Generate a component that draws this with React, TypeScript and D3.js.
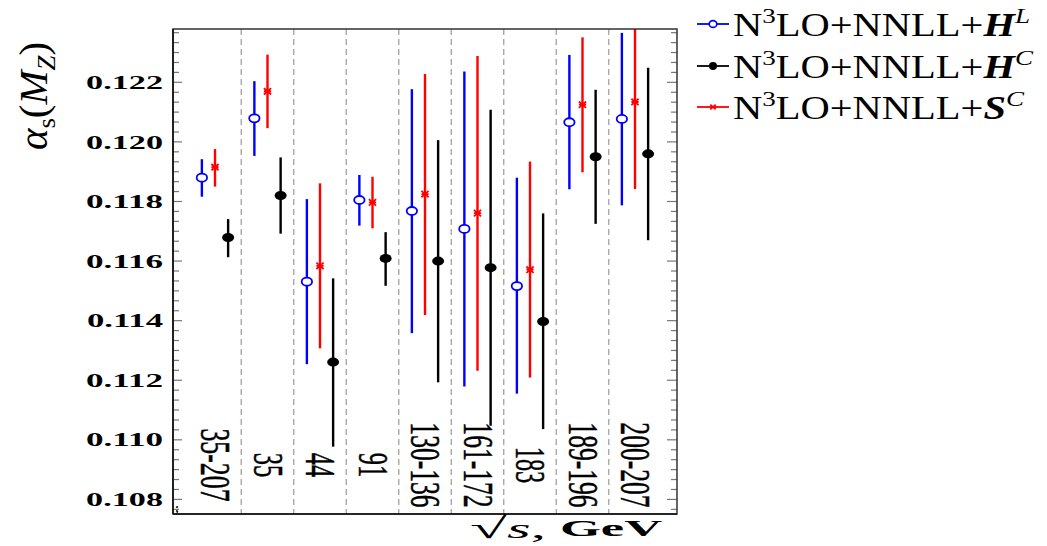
import React, { useEffect, useRef } from "react";
import * as d3 from "d3";

const categories = ["35-207", "35", "44", "91", "130-136", "161-172", "183", "189-196", "200-207"];

const hlCentral = [0.1188, 0.12079, 0.11531, 0.11805, 0.11768, 0.11708, 0.11516, 0.12066, 0.12077];
const hlLow = [0.11816, 0.11953, 0.11254, 0.11719, 0.11358, 0.11179, 0.11155, 0.11841, 0.11787];
const hlHigh = [0.11942, 0.12204, 0.11808, 0.11889, 0.12177, 0.12236, 0.1188, 0.12292, 0.12366];

const scCentral = [0.11915, 0.1217, 0.11584, 0.11797, 0.11825, 0.11761, 0.11571, 0.12125, 0.12134];
const scLow = [0.1185, 0.12046, 0.11307, 0.1171, 0.11419, 0.11232, 0.11209, 0.11898, 0.11842];
const scHigh = [0.11976, 0.12293, 0.11861, 0.11883, 0.12228, 0.12288, 0.11934, 0.12351, 0.1242];

const hcCentral = [0.11679, 0.1182, 0.11261, 0.11609, 0.116, 0.11578, 0.11397, 0.1195, 0.1196];
const hcLow = [0.11613, 0.11692, 0.10977, 0.11517, 0.11193, 0.11047, 0.11036, 0.11725, 0.1167];
const hcHigh = [0.11741, 0.11948, 0.11542, 0.11697, 0.12006, 0.12108, 0.1176, 0.12175, 0.12249];

const majorTicks = [0.108, 0.11, 0.112, 0.114, 0.116, 0.118, 0.12, 0.122];

const W = 1047;
const H = 546;
const FONT = "'Liberation Serif', 'DejaVu Serif', serif";

export default function App() {
  const ref = useRef<SVGSVGElement | null>(null);

  useEffect(() => {
    const svg = d3.select(ref.current);
    svg.selectAll("*").remove();

    const x = d3.scaleLinear().domain([-0.3, 9.3]).range([173, 677]);
    const y = d3.scaleLinear().domain([0.10751, 0.12379]).range([514, 29]);
    const [x0, x1] = x.range();
    const [yb, yt] = y.range();

    const fit = (t: any, target: number, sy = 1) => {
      const w = (t.node() as SVGTextElement).getBBox().width;
      t.attr("transform", `scale(${target / w},${sy})`);
    };

    svg.append("defs").append("clipPath").attr("id", "plotclip")
      .append("rect").attr("x", x0).attr("y", yt).attr("width", x1 - x0).attr("height", yb - yt);

    // dashed separators
    svg.append("g").selectAll("line").data(d3.range(1, categories.length)).join("line")
      .attr("x1", (d) => x(d)).attr("x2", (d) => x(d))
      .attr("y1", yt).attr("y2", yb)
      .attr("stroke", "#a0a0a0").attr("stroke-width", 1.3).attr("stroke-dasharray", "6,4");

    // ticks
    const step = 0.002 / 6;
    const minor: number[] = [];
    for (let j = -3; j <= 60; j++) {
      if (j % 6 === 0) continue;
      const v = 0.108 + j * step;
      if (v > y.domain()[0] && v < y.domain()[1]) minor.push(v);
    }
    const tg = svg.append("g").attr("stroke", "#777").attr("stroke-width", 1.2);
    tg.selectAll("line.mjl").data(majorTicks).join("line").attr("class", "mjl")
      .attr("x1", x0).attr("x2", x0 + 9).attr("y1", (d) => y(d)).attr("y2", (d) => y(d));
    tg.selectAll("line.mnl").data(minor).join("line").attr("class", "mnl")
      .attr("x1", x0).attr("x2", x0 + 6).attr("y1", (d) => y(d)).attr("y2", (d) => y(d));
    tg.selectAll("line.mjr").data(majorTicks).join("line").attr("class", "mjr")
      .attr("x1", x1).attr("x2", x1 - 10).attr("y1", (d) => y(d)).attr("y2", (d) => y(d));
    tg.selectAll("line.mnr").data(minor).join("line").attr("class", "mnr")
      .attr("x1", x1).attr("x2", x1 - 6).attr("y1", (d) => y(d)).attr("y2", (d) => y(d));

    // category labels
    categories.forEach((c, i) => {
      const g = svg.append("g").attr("transform", `translate(${x(i + 0.5)},465) rotate(90)`);
      const t = g.append("text").attr("text-anchor", "middle").attr("dy", "0.33em")
        .attr("font-family", FONT).attr("font-size", 26).attr("fill", "#000")
        .attr("stroke", "#000").attr("stroke-width", 0.3).text(c);
      const w = (t.node() as SVGTextElement).getBBox().width;
      t.attr("transform", `scale(${(c.length * 12.2) / w},1.6)`);
    });

    // series
    const series = [
      { color: "#0000ff", off: 0.25, c: hlCentral, lo: hlLow, hi: hlHigh, m: "open" },
      { color: "#ff0000", off: 0.5, c: scCentral, lo: scLow, hi: scHigh, m: "star" },
      { color: "#000000", off: 0.75, c: hcCentral, lo: hcLow, hi: hcHigh, m: "fill" },
    ];
    const pg = svg.append("g").attr("clip-path", "url(#plotclip)");

    const drawMarker = (g: any, m: string, color: string, cx: number, cy: number, s = 1) => {
      if (m === "open") {
        g.append("ellipse").attr("cx", cx).attr("cy", cy).attr("rx", 5.2 * s).attr("ry", 4 * s)
          .attr("fill", "white").attr("stroke", color).attr("stroke-width", 1.8);
      } else if (m === "fill") {
        g.append("ellipse").attr("cx", cx).attr("cy", cy).attr("rx", 6 * s).attr("ry", 4.5 * s)
          .attr("fill", color);
      } else {
        const a = 3.6 * s, b = 3.2 * s;
        const p = d3.path();
        p.moveTo(cx - a, cy - b); p.lineTo(cx + a, cy + b);
        p.moveTo(cx - a, cy + b); p.lineTo(cx + a, cy - b);
        p.moveTo(cx - a, cy); p.lineTo(cx + a, cy);
        g.append("path").attr("d", p.toString()).attr("stroke", color).attr("stroke-width", 1.8).attr("fill", "none");
      }
    };

    series.forEach((s) => {
      s.c.forEach((v, i) => {
        const cx = x(i + s.off);
        pg.append("line").attr("x1", cx).attr("x2", cx)
          .attr("y1", y(s.lo[i])).attr("y2", y(s.hi[i]))
          .attr("stroke", s.color).attr("stroke-width", 2.4);
        drawMarker(pg, s.m, s.color, cx, y(v));
      });
    });

    // frame
    svg.append("rect").attr("x", x0).attr("y", yt).attr("width", x1 - x0).attr("height", yb - yt)
      .attr("fill", "none").attr("stroke", "#333").attr("stroke-width", 1.5);
    svg.append("line").attr("x1", x0).attr("x2", x0).attr("y1", yt).attr("y2", yb)
      .attr("stroke", "#111").attr("stroke-width", 1.6);
    svg.append("line").attr("x1", x0).attr("x2", x1).attr("y1", yb).attr("y2", yb)
      .attr("stroke", "#111").attr("stroke-width", 1.6);

    svg.append("text").attr("x", 175).attr("y", 512).attr("font-family", FONT)
      .attr("font-size", 12).attr("font-weight", "bold").text(";");

    // y tick labels
    majorTicks.forEach((v) => {
      const g = svg.append("g").attr("transform", `translate(163,${y(v)})`);
      const t = g.append("text").attr("text-anchor", "end").attr("dy", "0.35em")
        .attr("font-family", FONT).attr("font-size", 19).attr("font-weight", "bold")
        .text(d3.format(".3f")(v));
      fit(t, 77);
    });

    // y axis label
    {
      const g = svg.append("g").attr("transform", `translate(47,96) rotate(-90)`);
      const t = g.append("text").attr("text-anchor", "middle").attr("font-family", FONT).attr("font-size", 32);
      t.append("tspan").attr("font-style", "italic").text("α");
      t.append("tspan").attr("font-size", 21).attr("dy", 6).text("s");
      t.append("tspan").attr("dy", -6).text("(");
      t.append("tspan").attr("font-style", "italic").text("M");
      t.append("tspan").attr("font-size", 21).attr("font-style", "italic").attr("dy", 6).text("Z");
      t.append("tspan").attr("dy", -6).text(")");
      fit(t, 108, 1.25);
    }

    // x axis label
    {
      const g = svg.append("g").attr("transform", `translate(470,538)`);
      const t = g.append("text").attr("font-family", FONT).attr("font-size", 30);
      t.append("tspan").text("√");
      t.append("tspan").attr("font-style", "italic").attr("font-size", 27).text("s");
      t.append("tspan").attr("font-size", 27).text(",");
      fit(t, 76, 1.0);
      const g2 = svg.append("g").attr("transform", `translate(560,536)`);
      const t2 = g2.append("text").attr("font-family", FONT).attr("font-size", 23).attr("font-weight", "bold").text("GeV");
      fit(t2, 103, 1.0);
    }

    // legend
    const legend = [
      { color: "#0000ff", m: "open", sup: "L", last: "H", base: 36 },
      { color: "#000000", m: "fill", sup: "C", last: "H", base: 78 },
      { color: "#ff0000", m: "star", sup: "C", last: "S", base: 119 },
    ];
    let k = 1;
    legend.forEach((l, idx) => {
      const cy = l.base - 12;
      svg.append("line").attr("x1", 697).attr("x2", 729).attr("y1", cy).attr("y2", cy)
        .attr("stroke", l.color).attr("stroke-width", 1.8);
      if (l.m === "open") {
        svg.append("ellipse").attr("cx", 713).attr("cy", cy).attr("rx", 3.8).attr("ry", 3.4)
          .attr("fill", "white").attr("stroke", l.color).attr("stroke-width", 1.6);
      } else if (l.m === "fill") {
        svg.append("circle").attr("cx", 713).attr("cy", cy).attr("r", 4).attr("fill", l.color);
      } else {
        drawMarker(svg, "star", l.color, 713, cy, 0.75);
      }
      const g = svg.append("g").attr("transform", `translate(733,${l.base})`);
      const t = g.append("text").attr("font-family", FONT).attr("font-size", 33).attr("fill", "#000");
      t.append("tspan").text("N");
      t.append("tspan").attr("font-size", 22).attr("dy", -13).text("3");
      t.append("tspan").attr("dy", 13).text("LO+NNLL+");
      t.append("tspan").attr("font-style", "italic").attr("font-weight", "bold").text(l.last);
      t.append("tspan").attr("font-style", "italic").attr("font-size", 22).attr("dy", -13).text(l.sup);
      if (idx === 0) {
        const w = (t.node() as SVGTextElement).getBBox().width;
        k = 297 / w;
      }
      t.attr("transform", `scale(${k},1)`);
    });
  }, []);

  return (
    <svg
      ref={ref}
      width={W}
      height={H}
      viewBox={`0 0 ${W} ${H}`}
      style={{ position: "absolute", left: 0, top: 0, background: "#fff" }}
    />
  );
}
